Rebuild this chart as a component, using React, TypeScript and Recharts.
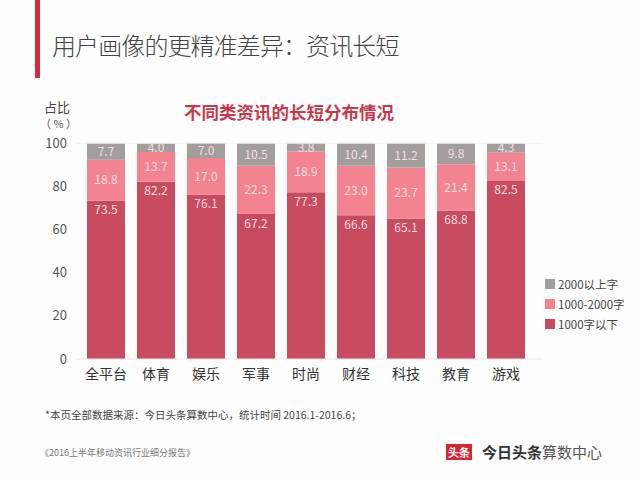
import React from 'react';
import { BarChart, Bar, XAxis, YAxis, LabelList, ReferenceLine } from 'recharts';

const categories = ['全平台', '体育', '娱乐', '军事', '时尚', '财经', '科技', '教育', '游戏'];
const under1000 = [73.5, 82.2, 76.1, 67.2, 77.3, 66.6, 65.1, 68.8, 82.5];
const between1000and2000 = [18.8, 13.7, 17.0, 22.3, 18.9, 23.0, 23.7, 21.4, 13.1];
const over2000 = [7.7, 4.0, 7.0, 10.5, 3.8, 10.4, 11.2, 9.8, 4.3];
const yTicks = [0, 20, 40, 60, 80, 100];
const seriesNames = ['1000字以下', '1000-2000字', '2000以上字'];

const data = categories.map((c, i) => ({
  name: c,
  a: under1000[i],
  b: between1000and2000[i],
  c: over2000[i],
}));

const FONT = '"Noto Sans CJK SC", "Noto Sans", sans-serif';
const C_DARK = '#c84b60';
const C_PINK = '#f3848f';
const C_GRAY = '#a29e9e';

const legendItems = [
  { label: seriesNames[2], color: C_GRAY },
  { label: seriesNames[1], color: C_PINK },
  { label: seriesNames[0], color: C_DARK },
];

const labelStyle = { fill: '#f6dde0', fontSize: 12, fontFamily: FONT };
const fmt = (v: any) => Number(v).toFixed(1);

export default function App() {
  return (
    <div style={{ position: 'absolute', left: 0, top: 0, width: 640, height: 480, background: '#fdfdfd', fontFamily: FONT, overflow: 'hidden' }}>
      <div style={{ position: 'absolute', left: 35, top: 0, width: 5, height: 78, background: '#d6283f' }} />
      <div style={{ position: 'absolute', left: 52, top: 27, fontSize: 24, color: '#444', fontWeight: 300, whiteSpace: 'nowrap', letterSpacing: -0.9 }}>
        用户画像的更精准差异：资讯长短
      </div>
      <div style={{ position: 'absolute', left: 184, top: 99, fontSize: 17.5, color: '#c8384c', fontWeight: 700, whiteSpace: 'nowrap' }}>
        不同类资讯的长短分布情况
      </div>
      <div style={{ position: 'absolute', left: 40, top: 99, color: '#444', whiteSpace: 'nowrap', lineHeight: '16px', fontSize: 13 }}>
        <span style={{ paddingLeft: 4 }}>占比</span>
        <br />
        <span style={{ fontSize: 11, color: '#555' }}>（ % ）</span>
      </div>
      <div style={{ position: 'absolute', left: 0, top: 0 }}>
        <BarChart width={640} height={480} data={data} margin={{ top: 143, right: 97, bottom: 0, left: 0 }}>
          <XAxis
            dataKey="name"
            height={121}
            tickLine={false}
            axisLine={{ stroke: '#e6e6e6' }}
            tick={{ fill: '#333', fontSize: 14, fontFamily: FONT }}
            tickMargin={4}
            padding={{ left: 5, right: 12 }}
            interval={0}
          />
          <YAxis
            width={76}
            domain={[0, 100]}
            ticks={yTicks}
            tickLine={false}
            axisLine={false}
            tick={{ fill: '#555', fontSize: 13, fontFamily: FONT }}
            tickMargin={3}
          />
          <ReferenceLine y={100} stroke="#ececec" />
          <Bar dataKey="a" stackId="s" fill={C_DARK} barSize={38} isAnimationActive={false}>
            <LabelList dataKey="a" position="insideTop" offset={5} style={labelStyle} formatter={fmt} />
          </Bar>
          <Bar dataKey="b" stackId="s" fill={C_PINK} barSize={38} isAnimationActive={false}>
            <LabelList dataKey="b" position="center" style={labelStyle} formatter={fmt} />
          </Bar>
          <Bar dataKey="c" stackId="s" fill={C_GRAY} barSize={38} isAnimationActive={false}>
            <LabelList dataKey="c" position="center" style={labelStyle} formatter={fmt} />
          </Bar>
        </BarChart>
      </div>
      <div style={{ position: 'absolute', left: 545, top: 274 }}>
        {legendItems.map((it) => (
          <div key={it.label} style={{ display: 'flex', alignItems: 'center', height: 20, fontSize: 11.5, color: '#444', whiteSpace: 'nowrap' }}>
            <span style={{ display: 'inline-block', width: 10, height: 10, background: it.color, marginRight: 3 }} />
            {it.label}
          </div>
        ))}
      </div>
      <div style={{ position: 'absolute', left: 45, top: 407, fontSize: 10.5, color: '#444', whiteSpace: 'nowrap' }}>
        *本页全部数据来源：今日头条算数中心，统计时间 2016.1-2016.6；
      </div>
      <div style={{ position: 'absolute', left: 40, top: 446, fontSize: 9, color: '#777', whiteSpace: 'nowrap' }}>
        《2016上半年移动资讯行业细分报告》
      </div>
      <div style={{ position: 'absolute', left: 446, top: 444, width: 26, height: 16, background: '#d9232f', color: '#fff', fontSize: 11, fontWeight: 700, display: 'flex', alignItems: 'center', justifyContent: 'center', lineHeight: '16px' }}>
        头条
      </div>
      <div style={{ position: 'absolute', left: 482, top: 441, fontSize: 15, color: '#333', whiteSpace: 'nowrap' }}>
        <span style={{ fontWeight: 700 }}>今日头条</span>
        <span style={{ fontWeight: 400, color: '#555' }}>算数中心</span>
      </div>
    </div>
  );
}
